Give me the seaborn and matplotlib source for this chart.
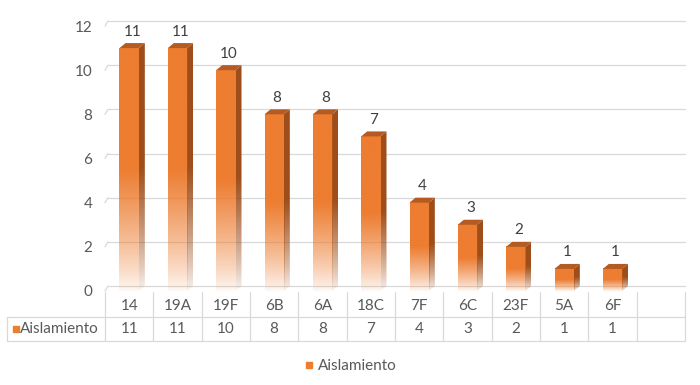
"""
3D-style column chart with data table: serotipos por aislamiento
"""

import numpy as np
import matplotlib
matplotlib.use('Agg')
import matplotlib.pyplot as plt
import seaborn as sns
from matplotlib.patches import Polygon
from matplotlib.lines import Line2D

# data
categories = ['14', '19A', '19F', '6B', '6A', '18C', '7F', '6C', '23F', '5A', '6F']
values = [11, 11, 10, 8, 8, 7, 4, 3, 2, 1, 1]
series_name = 'Aislamiento'
y_ticks = [0, 2, 4, 6, 8, 10, 12]

ORANGE = '#ED7D31'
SIDE = '#9E4E1A'
TOP = '#B35B22'
GRID = '#D9D9D9'
TEXT = '#595959'
FS = 11

sns.set_style('white')
plt.rcParams['font.family'] = ['Lato', 'DejaVu Sans']

W, H = 700, 385
fig = plt.figure(figsize=(W / 100, H / 100), dpi=100)

# plot area in pixels (left, top, right, bottom)
left_px, top_px, right_px, bottom_px = 105, 26, 685, 291
ax = fig.add_axes([left_px / W, 1 - bottom_px / H,
                   (right_px - left_px) / W, (bottom_px - top_px) / H])

n_slots = len(categories) + 1  # table has an extra empty column
slot_px = (right_px - left_px) / n_slots
px_per_unit = (bottom_px - top_px) / (y_ticks[-1] - y_ticks[0])

# 3D depth offsets in data units
dx = 6 / slot_px
dy = 5 / px_per_unit

sns.barplot(x=categories, y=values, color=ORANGE, width=0.40, ax=ax,
            order=categories, errorbar=None, zorder=3)


def gradient_rgba(color, n=256):
    rgb = matplotlib.colors.to_rgb(color)
    t = np.linspace(0, 1, n)
    alpha = np.clip(t / 0.5, 0, 1) ** 0.8 * 0.96 + 0.04
    arr = np.zeros((n, 1, 4))
    arr[:, 0, :3] = rgb
    arr[:, 0, 3] = alpha
    return arr


front_grad = gradient_rgba(ORANGE)
side_grad = gradient_rgba(SIDE)

for p, v in zip(ax.patches, values):
    x0 = p.get_x()
    w = p.get_width()
    h = p.get_height()
    p.set_visible(False)

    # front face
    ax.imshow(front_grad, extent=[x0, x0 + w, 0, h], origin='lower',
              aspect='auto', zorder=3, interpolation='bilinear')

    # side face
    side = Polygon([(x0 + w, 0), (x0 + w + dx, dy), (x0 + w + dx, h + dy), (x0 + w, h)],
                   closed=True, facecolor='none', edgecolor='none')
    ax.add_patch(side)
    im2 = ax.imshow(side_grad, extent=[x0 + w, x0 + w + dx, 0, h + dy], origin='lower',
                    aspect='auto', zorder=3, interpolation='bilinear')
    im2.set_clip_path(side)

    # top face
    top = Polygon([(x0, h), (x0 + dx, h + dy), (x0 + w + dx, h + dy), (x0 + w, h)],
                  closed=True, facecolor=TOP, edgecolor='none', zorder=4)
    ax.add_patch(top)

    # data label
    ax.text(x0 + w / 2 + dx / 2, h + dy + 0.2, str(v), ha='center', va='bottom',
            fontsize=FS, color='#404040', clip_on=False)

# back-wall gridlines with small side-wall diagonals
x_lo, x_hi = -0.5, n_slots - 0.5
for yt in y_ticks:
    ax.plot([x_lo + dx * 0.5, x_hi], [yt + dy, yt + dy], color=GRID, lw=0.9, zorder=1,
            clip_on=False)
    ax.plot([x_lo, x_lo + dx * 0.5], [yt, yt + dy], color=GRID, lw=0.9, zorder=1,
            clip_on=False)

ax.set_xlim(x_lo, x_hi)
ax.set_ylim(y_ticks[0], y_ticks[-1])
ax.set_yticks(y_ticks)
ax.set_yticklabels([str(t) for t in y_ticks], fontsize=FS, color=TEXT)
ax.tick_params(axis='y', length=0, pad=9)
ax.set_xticks([])
ax.set_xlabel('')
ax.set_ylabel('')
for s in ax.spines.values():
    s.set_visible(False)

# data table drawn in pixel coordinates
tax = fig.add_axes([0, 0, 1, 1], zorder=-1)
tax.set_xlim(0, W)
tax.set_ylim(H, 0)
tax.axis('off')

row_top, row_mid, row_bot = 292, 317, 341
table_left = 7
col_edges = left_px + np.arange(n_slots + 1) * slot_px
for xe in col_edges:
    tax.plot([xe, xe], [row_top, row_bot], color=GRID, lw=0.9)
tax.plot([table_left, table_left], [row_mid, row_bot], color=GRID, lw=0.9)
tax.plot([table_left, right_px], [row_mid, row_mid], color=GRID, lw=0.9)
tax.plot([table_left, right_px], [row_bot, row_bot], color=GRID, lw=0.9)

cells_cat = categories + ['']
cells_val = [str(v) for v in values] + ['']
for i in range(n_slots):
    cx = (col_edges[i] + col_edges[i + 1]) / 2
    tax.text(cx, (row_top + row_mid) / 2 + 2, cells_cat[i], ha='center', va='center',
             fontsize=FS, color=TEXT)
    tax.text(cx, (row_mid + row_bot) / 2, cells_val[i], ha='center', va='center',
             fontsize=FS, color=TEXT)

tax.plot([15.5], [(row_mid + row_bot) / 2], marker='s', markersize=5, color=ORANGE,
         linestyle='')
tax.text(20, (row_mid + row_bot) / 2, series_name, ha='left', va='center',
         fontsize=FS, color=TEXT)

# legend
handle = Line2D([], [], marker='s', color=ORANGE, linestyle='', markersize=5)
fig.legend(handles=[handle], labels=[series_name], loc='center',
           bbox_to_anchor=(0.5, 1 - 366 / H), frameon=False, fontsize=FS,
           handletextpad=0.2, handlelength=0.8, labelcolor=TEXT)

fig.savefig('out.png', dpi=100)
plt.close(fig)
